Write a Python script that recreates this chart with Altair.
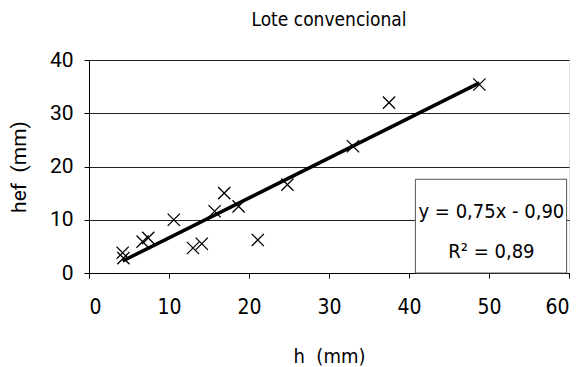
import altair as alt
import pandas as pd

h_vals = [4.2, 4.3, 6.7, 7.4, 10.6, 13.0, 14.1, 15.7, 16.9, 18.7, 21.1, 24.8, 33.0, 37.5, 48.8]
hef_vals = [3.8, 2.8, 5.9, 6.6, 10.0, 4.7, 5.5, 11.6, 15.0, 12.5, 6.2, 16.6, 23.8, 32.0, 35.4]
slope, intercept = 0.75, -0.90
eq_lines = ["y = 0,75x - 0,90", "R\u00b2 = 0,89"]
eq_y = [11.5, 4.0]

NARROW = "DejaVu Sans Condensed"
SANS = "Roboto"

pts = pd.DataFrame({"h": h_vals, "hef": hef_vals})
xmin, xmax = min(h_vals), max(h_vals)
trend = pd.DataFrame({"h": [xmin, xmax], "hef": [slope * xmin + intercept, slope * xmax + intercept]})
box = pd.DataFrame({"x1": [40.8], "x2": [59.7], "y1": [0.0], "y2": [17.6]})
eq = pd.DataFrame({"x": [50.3, 50.3], "y": eq_y, "t": eq_lines})

xs = alt.Scale(domain=[0, 60], nice=False)
ys = alt.Scale(domain=[0, 40], nice=False)

xaxis = alt.Axis(values=[0, 10, 20, 30, 40, 50, 60], grid=False, title="h\u00a0 (mm)",
                 labelFont=NARROW, labelFontSize=21, labelColor="black", labelPadding=18,
                 titleFont=NARROW, titleFontSize=20, titleFontWeight="normal", titleColor="black", titlePadding=29,
                 domainColor="black", tickColor="black", tickSize=5)
yaxis = alt.Axis(values=[0, 10, 20, 30, 40], grid=True, gridColor="#222", gridWidth=1, title="hef\u00a0 (mm)",
                 labelFont=SANS, labelFontSize=21, labelColor="black", labelPadding=11,
                 titleFont=SANS, titleFontSize=21, titleFontWeight="normal", titleColor="black", titlePadding=20,
                 domainColor="black", tickColor="black", tickSize=5)

points = alt.Chart(pts).mark_point(
    shape="M-1,-1L1,1M-1,1L1,-1", filled=False, color="black", strokeWidth=1.3, size=150, opacity=1
).encode(x=alt.X("h:Q", scale=xs, axis=xaxis), y=alt.Y("hef:Q", scale=ys, axis=yaxis))

line = alt.Chart(trend).mark_line(color="black", strokeWidth=3.5).encode(
    x=alt.X("h:Q", scale=xs), y=alt.Y("hef:Q", scale=ys))

rect = alt.Chart(box).mark_rect(fill="white", stroke="#555", strokeWidth=1).encode(
    x=alt.X("x1:Q", scale=xs), x2="x2:Q", y=alt.Y("y1:Q", scale=ys), y2="y2:Q")

txt = alt.Chart(eq).mark_text(font=NARROW, fontSize=20, color="black", align="center", baseline="middle").encode(
    x=alt.X("x:Q", scale=xs), y=alt.Y("y:Q", scale=ys), text="t:N")

chart = alt.layer(line, points, rect, txt).properties(
    width=480, height=213,
    title=alt.TitleParams("Lote convencional", font=NARROW, fontSize=19, fontWeight="normal",
                          color="black", anchor="middle", offset=19),
    autosize=alt.AutoSizeParams(type="none"),
    padding={"left": 89, "top": 60, "right": 15, "bottom": 94},
).configure_view(stroke=None).configure(background="white")

chart.save("out.html", embed_options={"renderer": "svg", "actions": False})
